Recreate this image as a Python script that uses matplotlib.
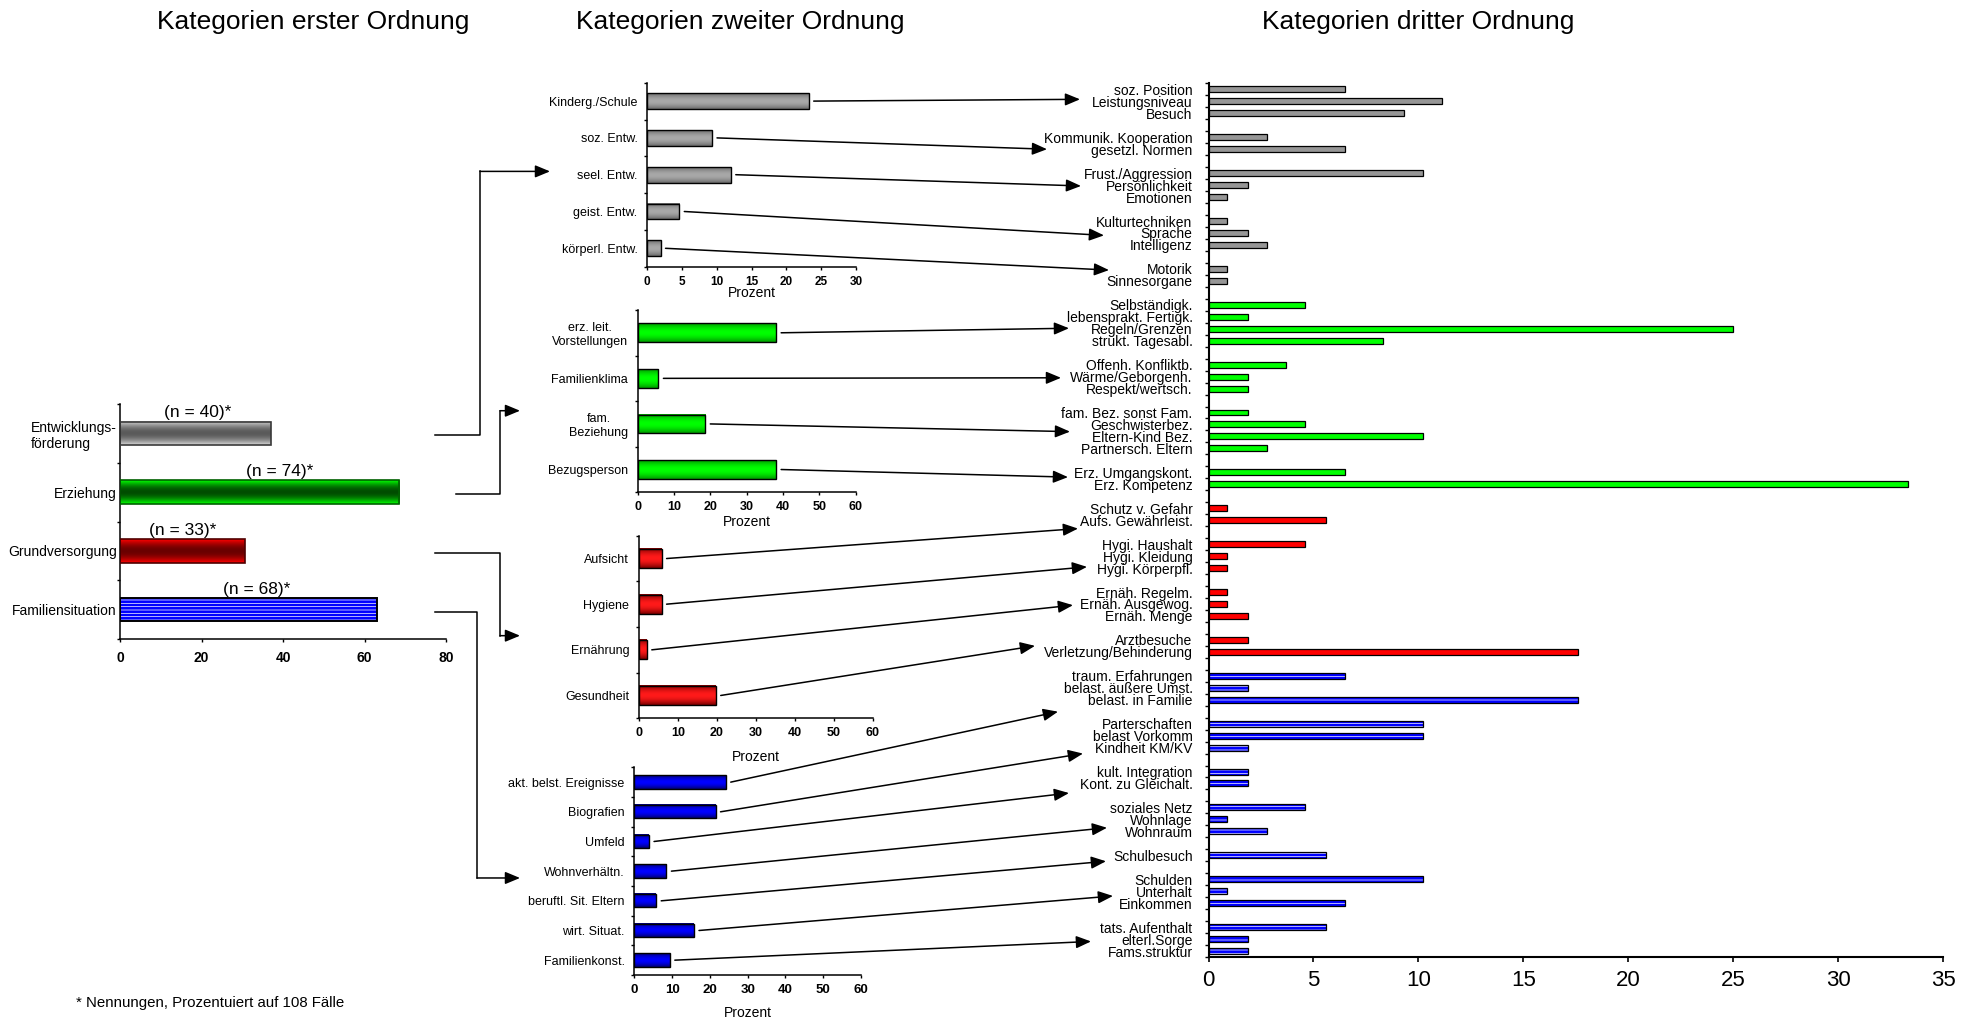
import numpy as np
import matplotlib
matplotlib.use("Agg")
import matplotlib.pyplot as plt
from matplotlib.colors import to_rgb
from matplotlib.lines import Line2D
from matplotlib.patches import FancyArrowPatch

plt.rcParams['font.family'] = ['Liberation Sans', 'DejaVu Sans']
plt.rcParams['hatch.linewidth'] = 1.9
plt.rcParams['axes.linewidth'] = 1.1

# --- Kategorien erster Ordnung (Prozent von 108 Faellen)
kat1_labels = ['Entwicklungs-\nförderung', 'Erziehung', 'Grundversorgung', 'Familiensituation']
kat1_prozent = [37.0, 68.5, 30.6, 63.0]
kat1_n = [40, 74, 33, 68]

# --- Kategorien zweiter Ordnung
kat2_entw_labels = ['Kinderg./Schule', 'soz. Entw.', 'seel. Entw.', 'geist. Entw.', 'körperl. Entw.']
kat2_entw_prozent = [23.2, 9.3, 12.0, 4.6, 1.9]
kat2_erz_labels = ['erz. leit.\nVorstellungen', 'Familienklima', 'fam.\nBeziehung', 'Bezugsperson']
kat2_erz_prozent = [38.1, 5.7, 18.6, 38.1]
kat2_grund_labels = ['Aufsicht', 'Hygiene', 'Ernährung', 'Gesundheit']
kat2_grund_prozent = [5.8, 5.8, 2.0, 19.7]
kat2_fam_labels = ['akt. belst. Ereignisse', 'Biografien', 'Umfeld', 'Wohnverhältn.',
                   'beruftl. Sit. Eltern', 'wirt. Situat.', 'Familienkonst.']
kat2_fam_prozent = [24.2, 21.5, 3.9, 8.5, 5.8, 15.8, 9.4]

# --- Kategorien dritter Ordnung (eine Teilliste je Kategorie zweiter Ordnung)
kat3_entw_labels = [['soz. Position', 'Leistungsniveau', 'Besuch'],
                    ['Kommunik. Kooperation', 'gesetzl. Normen'],
                    ['Frust./Aggression', 'Persönlichkeit', 'Emotionen'],
                    ['Kulturtechniken', 'Sprache', 'Intelligenz'],
                    ['Motorik', 'Sinnesorgane']]
kat3_entw_prozent = [[6.5, 11.1, 9.3], [2.8, 6.5], [10.2, 1.9, 0.9], [0.9, 1.9, 2.8], [0.9, 0.9]]
kat3_erz_labels = [['Selbständigk.', 'lebensprakt. Fertigk.', 'Regeln/Grenzen', 'strukt. Tagesabl.'],
                   ['Offenh. Konfliktb.', 'Wärme/Geborgenh.', 'Respekt/wertsch.'],
                   ['fam. Bez. sonst Fam.', 'Geschwisterbez.', 'Eltern-Kind Bez.', 'Partnersch. Eltern'],
                   ['Erz. Umgangskont.', 'Erz. Kompetenz']]
kat3_erz_prozent = [[4.6, 1.9, 25.0, 8.3], [3.7, 1.9, 1.9], [1.9, 4.6, 10.2, 2.8], [6.5, 33.3]]
kat3_grund_labels = [['Schutz v. Gefahr', 'Aufs. Gewährleist.'],
                     ['Hygi. Haushalt', 'Hygi. Kleidung', 'Hygi. Körperpfl.'],
                     ['Ernäh. Regelm.', 'Ernäh. Ausgewog.', 'Ernäh. Menge'],
                     ['Arztbesuche', 'Verletzung/Behinderung']]
kat3_grund_prozent = [[0.9, 5.6], [4.6, 0.9, 0.9], [0.9, 0.9, 1.9], [1.9, 17.6]]
kat3_fam_labels = [['traum. Erfahrungen', 'belast. äußere Umst.', 'belast. in Familie'],
                   ['Parterschaften', 'belast Vorkomm', 'Kindheit KM/KV'],
                   ['kult. Integration', 'Kont. zu Gleichalt.'],
                   ['soziales Netz', 'Wohnlage', 'Wohnraum'],
                   ['Schulbesuch'],
                   ['Schulden', 'Unterhalt', 'Einkommen'],
                   ['tats. Aufenthalt', 'elterl.Sorge', 'Fams.struktur']]
kat3_fam_prozent = [[6.5, 1.9, 17.6], [10.2, 10.2, 1.9], [1.9, 1.9], [4.6, 0.9, 2.8],
                    [5.6], [10.2, 0.9, 6.5], [5.6, 1.9, 1.9]]

GRAU, GRUEN, ROT, BLAU = '#969696', '#00ff00', '#ff0000', '#0000ff'

W, H = 1975, 1026
fig = plt.figure(figsize=(W / 100, H / 100), dpi=100)


def px_axes(x0, y0, x1, y1):
    ax = fig.add_axes([x0 / W, 1 - y1 / H, (x1 - x0) / W, (y1 - y0) / H])
    ax.spines[['top', 'right']].set_visible(False)
    return ax


def kategorie_achse(ax, labels, fs, pad, tick_len=2.4, align='center'):
    n = len(labels)
    ax.set_ylim(n - 0.5, -0.5)
    ax.set_yticks(np.arange(n + 1) - 0.5)
    ax.set_yticklabels([])
    ax.set_yticks(np.arange(n), minor=True)
    ax.set_yticklabels(labels, minor=True, fontsize=fs)
    for t in ax.get_yticklabels(minor=True):
        t.set_multialignment(align)
    ax.tick_params(axis='y', which='major', length=tick_len, width=1, direction='out')
    ax.tick_params(axis='y', which='minor', length=0, pad=pad)


def verlauf(ax, bars, c_rand, c_mitte):
    # zylinderartiger Farbverlauf innerhalb der Balken
    t = np.linspace(0, 1, 60)
    w = np.sin(np.pi * t)[:, None]
    img = (np.array(to_rgb(c_rand)) * (1 - w) + np.array(to_rgb(c_mitte)) * w)[:, None, :]
    for b in bars:
        x, y, bw, bh = b.get_x(), b.get_y(), b.get_width(), b.get_height()
        ax.imshow(img, extent=(x, x + bw, y, y + bh), aspect='auto',
                  interpolation='bilinear', zorder=2)


def streifen(ax, y, vals, h, lw=1):
    ax.barh(y, vals, height=h, color='white', edgecolor=BLAU, linewidth=0,
            hatch='-----', zorder=2)
    return ax.barh(y, vals, height=h, fill=False, edgecolor='black', linewidth=lw, zorder=3)


# ---------------- erste Ordnung
ax1 = px_axes(120, 404, 446, 639)
y1 = np.arange(len(kat1_prozent))
bars1 = ax1.barh(y1[:3], kat1_prozent[:3], height=0.4, facecolor='none',
                 edgecolor=['#3a3a3a', '#006000', '#500000'], linewidth=1.2, zorder=3)
verlauf(ax1, [bars1[0]], '#d4d4d4', '#5a5a5a')
verlauf(ax1, [bars1[1]], '#00ff00', '#004d00')
verlauf(ax1, [bars1[2]], '#ff0000', '#6a0000')
streifen(ax1, y1[3:], kat1_prozent[3:], 0.4, lw=1.4)
ax1.set_xlim(0, 80)
ax1.set_xticks(np.arange(0, 81, 20))
kategorie_achse(ax1, kat1_labels, 10, 2.4, align='left')
ax1.tick_params(axis='x', length=2.4, width=1, pad=6, labelsize=10)
for t in ax1.get_xticklabels():
    t.set_fontweight('bold')
n_versatz = [0.5, 5.0, 0.2, 2.0]
for v, n, yy, dx in zip(kat1_prozent, kat1_n, y1, n_versatz):
    ax1.text(v / 2 + dx, yy - 0.2 - 0.02, f'(n = {n})*', ha='center', va='bottom', fontsize=12.5)


# ---------------- zweite Ordnung
def mittel_panel(box, labels, vals, xmax, xstep, h, c_rand, c_mitte, labelpad, tick_fs):
    ax = px_axes(*box)
    bars = ax.barh(np.arange(len(vals)), vals, height=h, facecolor='none',
                   edgecolor='black', linewidth=1, zorder=3)
    verlauf(ax, bars, c_rand, c_mitte)
    ax.set_xlim(0, xmax)
    ax.set_xticks(np.arange(0, xmax + 1, xstep))
    kategorie_achse(ax, labels, 9, 7)
    ax.tick_params(axis='x', length=2.4, width=1, pad=4, labelsize=tick_fs)
    for t in ax.get_xticklabels():
        t.set_fontweight('bold')
    ax.set_xlabel('Prozent', fontsize=10, labelpad=labelpad)
    return ax


ax_entw = mittel_panel((647.3, 82.7, 856, 266.7), kat2_entw_labels, kat2_entw_prozent,
                       30, 5, 0.43, '#6a6a6a', '#a8a8a8', -1, 8.5)
ax_erz = mittel_panel((637.7, 310, 855.7, 492.3), kat2_erz_labels, kat2_erz_prozent,
                      60, 10, 0.41, '#009a00', '#00ff00', 1.5, 9)
ax_grund = mittel_panel((639, 535.7, 872.7, 718.3), kat2_grund_labels, kat2_grund_prozent,
                        60, 10, 0.42, '#7a0000', '#ff1a1a', 8, 9)
ax_fam = mittel_panel((634.3, 767.3, 861, 975), kat2_fam_labels, kat2_fam_prozent,
                      60, 10, 0.45, '#000070', '#0000ff', 7, 9.5)
mittel_achsen = [ax_entw, ax_erz, ax_grund, ax_fam]
mittel_werte = [kat2_entw_prozent, kat2_erz_prozent, kat2_grund_prozent, kat2_fam_prozent]

# ---------------- dritte Ordnung
gruppen = [(kat3_entw_labels, kat3_entw_prozent, 'grau'),
           (kat3_erz_labels, kat3_erz_prozent, 'gruen'),
           (kat3_grund_labels, kat3_grund_prozent, 'rot'),
           (kat3_fam_labels, kat3_fam_prozent, 'blau')]
z_lab, z_val, z_col = [], [], []
for labs, vals, col in gruppen:
    for sl, sv in zip(labs, vals):
        z_lab += sl
        z_val += sv
        z_col += [col] * len(sl)
        z_lab.append('')
        z_val.append(0)
        z_col.append(None)
z_lab, z_val, z_col = z_lab[:-1], z_val[:-1], z_col[:-1]
z_y = np.arange(len(z_lab))

ax_r = px_axes(1208.5, 83.4, 1943.4, 957)
for col, farbe in [('grau', GRAU), ('gruen', GRUEN), ('rot', ROT)]:
    sel = [i for i, c in enumerate(z_col) if c == col]
    ax_r.barh(z_y[sel], [z_val[i] for i in sel], height=0.5, color=farbe,
              edgecolor='black', linewidth=0.9, zorder=3)
sel = [i for i, c in enumerate(z_col) if c == 'blau']
streifen(ax_r, z_y[sel], [z_val[i] for i in sel], 0.5, lw=0.9)
ax_r.set_xlim(0, 35)
ax_r.set_xticks(np.arange(0, 36, 5))
kategorie_achse(ax_r, z_lab, 10, 11.5, tick_len=2.9)
ax_r.tick_params(axis='x', length=3.6, width=1.2, pad=6, labelsize=16)
ax_r.spines[['left', 'bottom']].set_linewidth(1.5)

# ---------------- Pfeile
inv = fig.transFigure.inverted()
pfeil_stil = '-|>,head_length=0.6,head_width=0.25'


def linie(punkte):
    p = inv.transform(np.array(punkte, dtype=float))
    fig.add_artist(Line2D(p[:, 0], p[:, 1], transform=fig.transFigure, color='black', lw=1.1))


def pfeil(a, b):
    a, b = inv.transform([a, b])
    fig.add_artist(FancyArrowPatch(tuple(a), tuple(b), transform=fig.transFigure,
                                   arrowstyle=pfeil_stil, mutation_scale=15, shrinkA=0,
                                   shrinkB=0, color='black', lw=1.1))


# Verbindungen erste -> zweite Ordnung (x in Pixeln, Ziel in Kategoriezeilen)
verb_start_x = [435, 456, 435, 435]
verb_knick_x = [480, 500, 500, 477]
verb_ziel_x = [550, 520, 520, 520]
verb_ziel_zeile = [1.91, 1.71, 1.69, 3.23]
for i, ax_t in enumerate(mittel_achsen):
    ya = ax1.transData.transform((0, y1[i]))[1] - 2
    yb = ax_t.transData.transform((0, verb_ziel_zeile[i]))[1]
    linie([(verb_start_x[i], ya), (verb_knick_x[i], ya), (verb_knick_x[i], yb)])
    pfeil((verb_knick_x[i], yb), (verb_ziel_x[i], yb))

# Verbindungen zweite -> dritte Ordnung
pfeil_x = [[1080, 1047, 1081, 1104, 1109],
           [1069, 1061, 1070, 1068],
           [1078, 1087, 1073, 1035],
           [1058, 1083, 1069, 1107, 1106, 1113, 1091]]
pfeil_zeile = [[0.83, 5.0, 8.07, 12.2, 15.1],
               [19.96, 24.1, 28.6, 32.4],
               [36.7, 39.9, 43.1, 46.5],
               [52.0, 55.5, 58.8, 61.7, 64.5, 67.4, 71.2]]
for ax_m, werte, px_list, zl in zip(mittel_achsen, mittel_werte, pfeil_x, pfeil_zeile):
    for k, v in enumerate(werte):
        sx, sy = ax_m.transData.transform((v, k))
        ty = ax_r.transData.transform((0, zl[k]))[1]
        pfeil((sx + 5, sy), (px_list[k], ty))

# ---------------- Texte
fig.text(313.6 / W, 1 - 22 / H, 'Kategorien erster Ordnung', ha='center', va='center', fontsize=19)
fig.text(740 / W, 1 - 22 / H, 'Kategorien zweiter Ordnung', ha='center', va='center', fontsize=19)
fig.text(1417.7 / W, 1 - 22 / H, 'Kategorien dritter Ordnung', ha='center', va='center', fontsize=19)
fig.text(75.6 / W, 1 - 1003 / H, '* Nennungen, Prozentuiert auf 108 Fälle', ha='left',
         va='center', fontsize=10.8)

fig.savefig('out.png', dpi=100)
